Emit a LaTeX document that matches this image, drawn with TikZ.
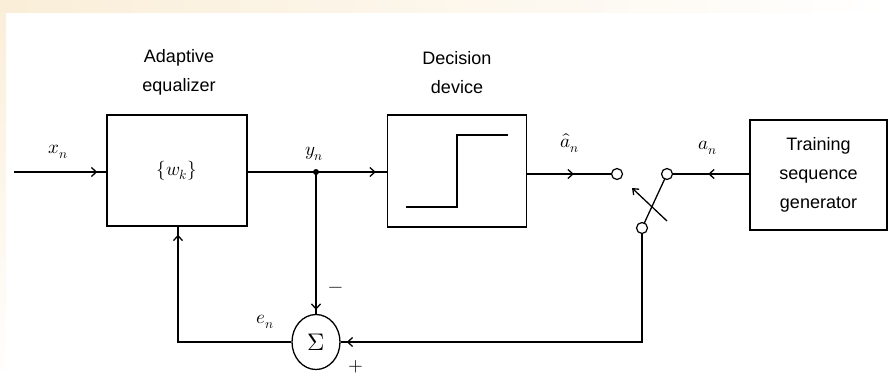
\documentclass[tikz,border=0pt]{standalone}
\usepackage{fontspec}
\usepackage{unicode-math}
\setmainfont{Liberation Sans}
\setmathfont{Latin Modern Math}
\usetikzlibrary{arrows.meta,decorations.markings,shapes.geometric}
\definecolor{cream}{RGB}{250,238,216}
\begin{document}
\begin{tikzpicture}[x=1pt,y=-1pt, line width=1.3pt,
  blk/.style={draw, rectangle, inner sep=0pt, align=center, font=\fontsize{18}{29}\selectfont},
  lbl/.style={font=\fontsize{18}{29}\selectfont, align=center},
  mlbl/.style={font=\fontsize{19}{22}\selectfont},
  arrowat/.style={postaction={decorate},decoration={markings,mark=at position #1 with {\arrow{Straight Barb[length=5pt,width=9pt]}}}},
  contact/.style={draw, circle, minimum size=11pt, inner sep=0pt, line width=1.2pt, fill=white}
]
\useasboundingbox (0,0) rectangle (890,383);
\shade[left color=cream, right color=white] (0,0) rectangle (890,12);
\shade[top color=cream, bottom color=white] (0,0) rectangle (6,383);

% blocks
\node[blk, minimum width=140pt, minimum height=111pt] (eq) at (177,170.5) {\fontsize{19}{22}\selectfont$\{w_k\}$};
\node[lbl] (eqlab) at (179,72) {Adaptive\\equalizer};
\node[blk, minimum width=139pt, minimum height=112pt] (dd) at (457,171) {};
\node[lbl] (ddlab) at (457,73) {Decision\\device};
\node[blk, minimum width=137pt, minimum height=110pt] (tsg) at (818.5,175) {Training\\sequence\\generator};
\node[draw, ellipse, minimum width=48pt, minimum height=55pt, inner sep=0pt] (sum) at (316,342) {\fontsize{24}{24}\selectfont$\Sigma$};

% step characteristic
\coordinate (st1) at (406,207);
\coordinate (st2) at (457,207);
\coordinate (st3) at (457,135);
\coordinate (st4) at (508,135);
\draw (st1) -- (st2) -- (st3) -- (st4);

% coordinates
\coordinate (in) at (14,172);
\coordinate (j) at (316,172);
\coordinate (fbL) at (178,342);
\coordinate (fbR) at (642,342);
\coordinate (c1p) at (617,174);
\coordinate (c2p) at (667,174);
\coordinate (c3p) at (642,228);
\coordinate (s1) at (667,221);
\coordinate (s2) at (632,188);

% connectors
\draw[arrowat=-9pt] (in) -- (in -| eq.west);
\draw (eq.east |- j) -- (j);
\draw[arrowat=-11pt] (j) -- (j -| dd.west);
\fill (j) circle (3pt);
\draw[arrowat=-4pt] (j) -- (sum.north);
\draw[arrowat=-8pt] (sum.west) -- (fbL) -- (fbL |- eq.south);
\draw[arrowat=0.52] (dd.east |- c1p) -- (c1p);
\draw[arrowat=0.5] (tsg.west |- c2p) -- (c2p);
\draw[arrowat=-6pt] (c3p) -- (fbR) -- (sum.east);
\draw (c3p) -- (c2p);
\draw[-{Straight Barb[length=5pt,width=8pt]}] (s1) -- (s2);

% switch contacts
\node[contact] (c1) at (c1p) {};
\node[contact] (c2) at (c2p) {};
\node[contact] (c3) at (c3p) {};

% labels
\node[mlbl] (xl) at (58,152) {$x_n$};
\node[mlbl] (yl) at (314,154) {$y_n$};
\node[mlbl] (al) at (570,143) {$\hat{a}_n$};
\node[mlbl] (anl) at (708,148) {$a_n$};
\node[mlbl] (el) at (265,322) {$e_n$};
\node[mlbl] (minus) at (336,290) {$-$};
\node[mlbl] (plus) at (356,367) {$+$};
\end{tikzpicture}
\end{document}
